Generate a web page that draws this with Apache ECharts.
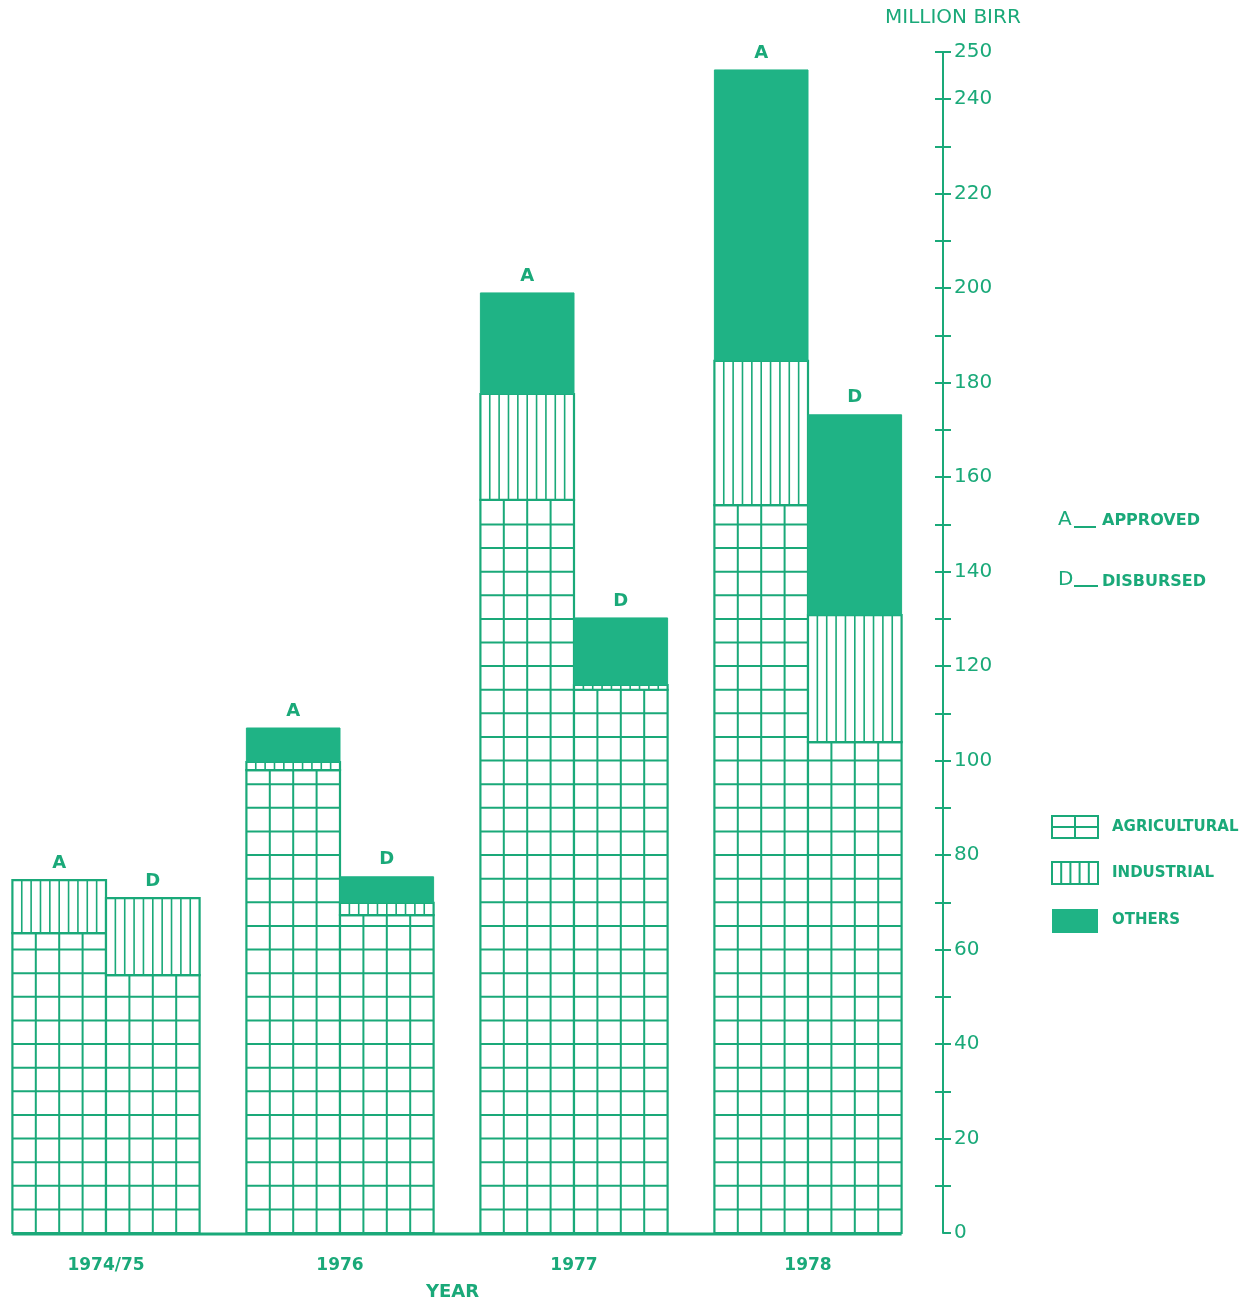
<!DOCTYPE html>
<html><head><meta charset="utf-8">
<script src="https://cdn.jsdelivr.net/npm/echarts@6.0.0/dist/echarts.min.js"></script>
<style>html,body{margin:0;padding:0;background:#fff}#c{width:1257px;height:1307px}</style>
</head><body><div id="c"></div>
<script>
// ---- data (million Birr) ----
const years = ['1974/75', '1976', '1977', '1978'];
const approvedAgricultural = [63.5, 98.0, 155.2, 154.1];
const approvedIndustrial   = [11.2, 1.7, 22.4, 30.5];
const approvedOthers       = [0, 7.2, 21.4, 61.6];
const disbursedAgricultural = [54.6, 67.3, 115.0, 103.9];
const disbursedIndustrial   = [16.3, 2.6, 1.0, 26.9];
const disbursedOthers       = [0, 5.5, 14.2, 42.4];
const sideLetters = ['A', 'D'];
const xLabelPositions = [0, 1, 2, 3];
const yLabelValues = [0, 20, 40, 60, 80, 100, 120, 140, 160, 180, 200, 220, 240, 250];
const yInnerTickValues = [10, 20, 30, 40, 50, 60, 70, 80, 90, 100, 110, 120, 130, 140, 150, 160, 170, 180, 190, 200, 210, 220, 230, 240, 250];

const G = '#1aa979';
const FILL = '#1fb385';
const FONT = 'DejaVu Sans';

const sides = [
  [approvedAgricultural, approvedIndustrial, approvedOthers],
  [disbursedAgricultural, disbursedIndustrial, disbursedOthers]
];
const items = [];
years.forEach((yr, i) => {
  sides.forEach((arrs, s) => {
    let base = 0, topKind = -1;
    arrs.forEach((a, k) => { if (a[i] > 0) topKind = k; });
    arrs.forEach((a, k) => {
      items.push([i, s, base, a[i], k, k === topKind ? 1 : 0]);
      base += a[i];
    });
  });
});

function renderItem(params, api) {
  const cat = api.value(0), side = api.value(1), base = api.value(2), val = api.value(3), kind = api.value(4), isTop = api.value(5);
  const band = api.size([1, 0])[0];
  const barW = band * 0.4;
  const c0 = api.coord([cat, base]);
  const c1 = api.coord([cat, base + val]);
  const xl = c0[0] - barW + side * barW, xr = xl + barW;
  const yb = c0[1], yt = c1[1];
  const ch = [];
  if (val > 0) {
    if (kind === 2) {
      ch.push({type: 'rect', shape: {x: xl, y: yt, width: barW, height: yb - yt}, style: {fill: FILL, stroke: FILL, lineWidth: 1}});
    } else {
      ch.push({type: 'rect', shape: {x: xl, y: yt, width: barW, height: yb - yt}, style: {fill: '#fff'}});
      if (kind === 0) {
        for (let k = 1; k < 4; k++) {
          const x = xl + k * barW / 4;
          ch.push({type: 'line', shape: {x1: x, y1: yt, x2: x, y2: yb}, style: {stroke: G, lineWidth: 2}});
        }
        for (let v = Math.ceil((base + 0.01) / 5) * 5; v < base + val - 0.8; v += 5) {
          const y = api.coord([cat, v])[1];
          ch.push({type: 'line', shape: {x1: xl, y1: y, x2: xr, y2: y}, style: {stroke: G, lineWidth: 2}});
        }
      } else {
        for (let k = 1; k < 10; k++) {
          const x = xl + k * barW / 10;
          ch.push({type: 'line', shape: {x1: x, y1: yt, x2: x, y2: yb}, style: {stroke: G, lineWidth: 1.6}});
        }
      }
      ch.push({type: 'rect', shape: {x: xl, y: yt, width: barW, height: yb - yt}, style: {fill: null, stroke: G, lineWidth: 2.2}});
    }
  }
  if (isTop) {
    ch.push({type: 'text', style: {text: sideLetters[side], x: (xl + xr) / 2, y: yt - 17, align: 'center', verticalAlign: 'middle', fill: G, fontSize: 18, fontWeight: 'bold', fontFamily: FONT}});
  }
  if (cat === 0 && side === 0 && kind === 0) {
    const last = api.coord([years.length - 1, 0]);
    ch.push({type: 'line', shape: {x1: xl, y1: yb + 1, x2: last[0] + barW, y2: yb + 1}, style: {stroke: G, lineWidth: 3}});
  }
  return {type: 'group', children: ch};
}

function legendBox(y, kind, label) {
  const x = 1052, w = 46, h = 22;
  const ch = [];
  if (kind === 2) {
    ch.push({type: 'rect', shape: {x: x, y: y, width: w, height: h + 2}, style: {fill: FILL}});
  } else {
    ch.push({type: 'rect', shape: {x: x, y: y, width: w, height: h}, style: {fill: '#fff', stroke: G, lineWidth: 2}});
    if (kind === 0) {
      ch.push({type: 'line', shape: {x1: x + w / 2, y1: y, x2: x + w / 2, y2: y + h}, style: {stroke: G, lineWidth: 2}});
      ch.push({type: 'line', shape: {x1: x, y1: y + h / 2, x2: x + w, y2: y + h / 2}, style: {stroke: G, lineWidth: 2}});
    } else {
      for (let k = 1; k < 5; k++) {
        ch.push({type: 'line', shape: {x1: x + k * w / 5, y1: y, x2: x + k * w / 5, y2: y + h}, style: {stroke: G, lineWidth: 2}});
      }
    }
  }
  ch.push({type: 'text', style: {text: label, x: 1112, y: y + h / 2, verticalAlign: 'middle', fill: G, fontSize: 15, fontWeight: 'bold', fontFamily: FONT}});
  return ch;
}

const chart = echarts.init(document.getElementById('c'), null, {renderer: 'canvas'});
chart.setOption({
  backgroundColor: '#fff',
  animation: false,
  title: {text: 'MILLION BIRR', left: 880, top: 3, textStyle: {color: G, fontSize: 20, fontWeight: 'normal', fontFamily: FONT}},
  grid: {left: 0, right: 332, top: 52, bottom: 74},
  xAxis: {
    type: 'value', min: -0.453, max: 3.5,
    axisLine: {show: false, onZero: false}, axisTick: {show: false}, splitLine: {show: false},
    axisLabel: {color: G, fontSize: 17, fontWeight: 'bold', fontFamily: FONT, margin: 24,
      customValues: xLabelPositions, formatter: v => years[Math.round(v)]},
    name: 'YEAR', nameLocation: 'middle', nameGap: 50,
    nameTextStyle: {color: G, fontSize: 18, fontWeight: 'bold', fontFamily: FONT, padding: [0, 20, 0, 0]}
  },
  yAxis: [{
    type: 'value', position: 'right', offset: 18, min: 0, max: 250, interval: 10,
    axisLine: {show: true, onZero: false, lineStyle: {color: G, width: 2}},
    axisTick: {show: true, length: 8, lineStyle: {color: G, width: 2}},
    axisLabel: {color: G, fontSize: 20, fontFamily: FONT, margin: 11, customValues: yLabelValues},
    splitLine: {show: false}
  }, {
    type: 'value', position: 'right', offset: 18, min: 0, max: 250, interval: 10,
    axisLine: {show: false, onZero: false},
    axisTick: {show: true, inside: true, length: 8, lineStyle: {color: G, width: 2}, customValues: yInnerTickValues},
    axisLabel: {show: false},
    splitLine: {show: false}
  }],
  graphic: [
    {type: 'text', style: {text: 'A', x: 1058, y: 520, verticalAlign: 'middle', fill: G, fontSize: 20, fontFamily: FONT}},
    {type: 'line', shape: {x1: 1074, y1: 527, x2: 1096, y2: 527}, style: {stroke: G, lineWidth: 2}},
    {type: 'text', style: {text: 'APPROVED', x: 1102, y: 521, verticalAlign: 'middle', fill: G, fontSize: 16, fontWeight: 'bold', fontFamily: FONT}},
    {type: 'text', style: {text: 'D', x: 1058, y: 580, verticalAlign: 'middle', fill: G, fontSize: 20, fontFamily: FONT}},
    {type: 'line', shape: {x1: 1074, y1: 586, x2: 1098, y2: 586}, style: {stroke: G, lineWidth: 2}},
    {type: 'text', style: {text: 'DISBURSED', x: 1102, y: 582, verticalAlign: 'middle', fill: G, fontSize: 16, fontWeight: 'bold', fontFamily: FONT}},
    {type: 'group', children: legendBox(816, 0, 'AGRICULTURAL')},
    {type: 'group', children: legendBox(862, 1, 'INDUSTRIAL')},
    {type: 'group', children: legendBox(909, 2, 'OTHERS')}
  ],
  series: [{
    type: 'custom', name: 'Loans', renderItem: renderItem, data: items,
    encode: {x: 0, y: 3}, xAxisIndex: 0, yAxisIndex: 0, clip: false
  }]
});
</script>
</body></html>
